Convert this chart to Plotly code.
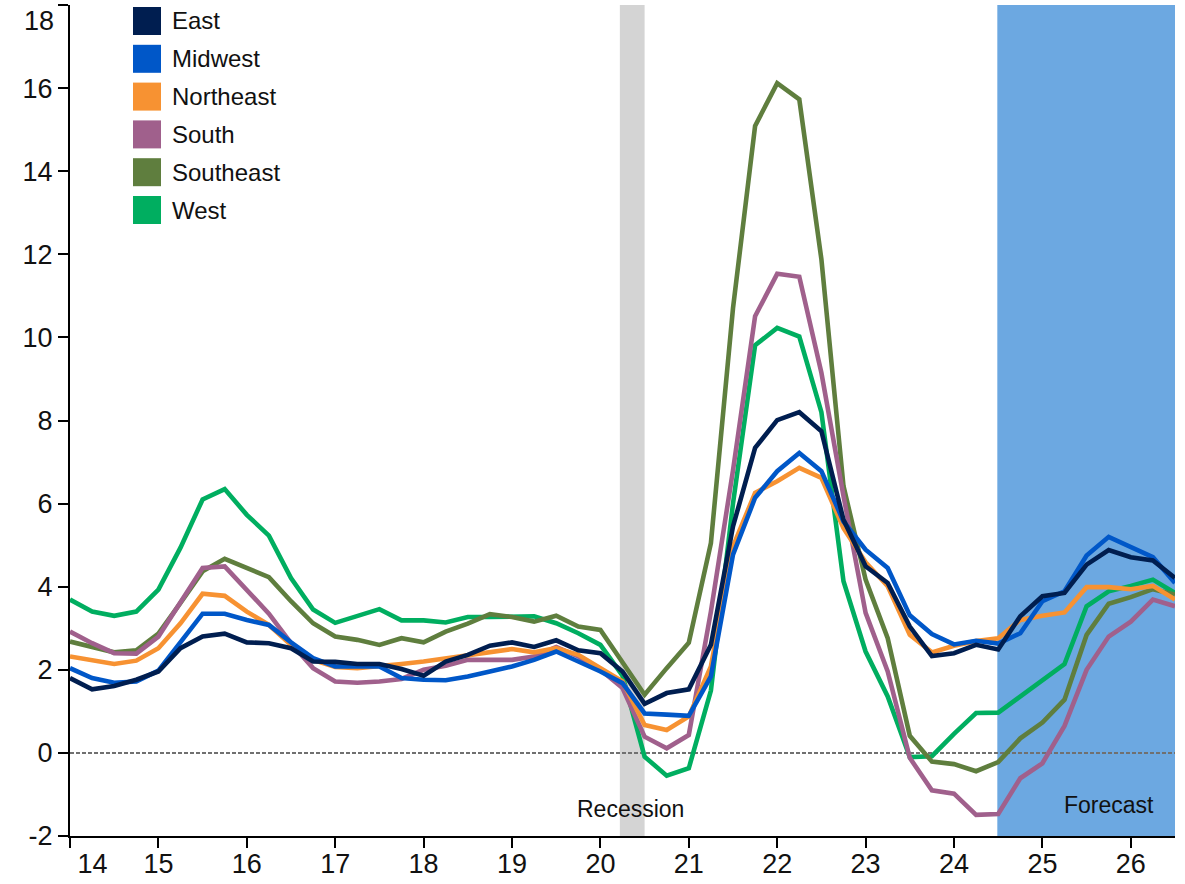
import plotly.graph_objects as go

# Quarterly periods (year 2014 = 14, ...), last observation 26.5
period = [14.0, 14.25, 14.5, 14.75, 15.0, 15.25, 15.5, 15.75, 16.0, 16.25, 16.5, 16.75,
          17.0, 17.25, 17.5, 17.75, 18.0, 18.25, 18.5, 18.75, 19.0, 19.25, 19.5, 19.75,
          20.0, 20.25, 20.5, 20.75, 21.0, 21.25, 21.5, 21.75, 22.0, 22.25, 22.5, 22.75,
          23.0, 23.25, 23.5, 23.75, 24.0, 24.25, 24.5, 24.75, 25.0, 25.25, 25.5, 25.75,
          26.0, 26.25, 26.5]

east = [1.80, 1.53, 1.61, 1.76, 1.96, 2.52, 2.80, 2.87, 2.66, 2.64, 2.52, 2.20,
        2.19, 2.14, 2.14, 2.02, 1.86, 2.20, 2.36, 2.58, 2.66, 2.55, 2.71, 2.47,
        2.40, 1.96, 1.18, 1.44, 1.53, 2.60, 5.45, 7.34, 8.01, 8.20, 7.74, 5.61,
        4.49, 4.09, 3.04, 2.33, 2.40, 2.60, 2.49, 3.29, 3.77, 3.85, 4.53, 4.88,
        4.71, 4.63, 4.21]
midwest = [2.04, 1.80, 1.69, 1.72, 1.98, 2.68, 3.35, 3.35, 3.20, 3.08, 2.66, 2.28,
           2.08, 2.08, 2.08, 1.80, 1.76, 1.75, 1.84, 1.96, 2.08, 2.24, 2.44, 2.20,
           1.96, 1.68, 0.95, 0.92, 0.89, 1.84, 4.77, 6.14, 6.78, 7.22, 6.78, 5.57,
           4.89, 4.45, 3.31, 2.86, 2.61, 2.70, 2.63, 2.88, 3.65, 3.89, 4.75, 5.20,
           4.97, 4.71, 4.09]
northeast = [2.32, 2.24, 2.14, 2.22, 2.52, 3.12, 3.83, 3.78, 3.40, 3.08, 2.60, 2.24,
             2.07, 2.04, 2.08, 2.14, 2.20, 2.28, 2.36, 2.44, 2.50, 2.42, 2.52, 2.36,
             2.04, 1.72, 0.67, 0.55, 0.88, 2.08, 4.97, 6.26, 6.54, 6.86, 6.62, 5.41,
             4.59, 4.01, 2.84, 2.42, 2.58, 2.69, 2.76, 3.20, 3.30, 3.38, 3.99, 3.99,
             3.94, 4.02, 3.69]
south = [2.92, 2.64, 2.40, 2.39, 2.80, 3.65, 4.45, 4.49, 3.93, 3.35, 2.64, 2.04,
         1.72, 1.69, 1.72, 1.78, 2.00, 2.10, 2.24, 2.24, 2.24, 2.32, 2.55, 2.32,
         2.00, 1.56, 0.39, 0.11, 0.43, 3.40, 6.80, 10.51, 11.53, 11.46, 9.15, 6.18,
         3.37, 1.96, -0.12, -0.90, -0.98, -1.49, -1.47, -0.61, -0.25, 0.65, 2.00, 2.80,
         3.16, 3.69, 3.53]
southeast = [2.68, 2.56, 2.42, 2.47, 2.87, 3.61, 4.37, 4.67, 4.45, 4.23, 3.65, 3.12,
             2.80, 2.72, 2.60, 2.76, 2.66, 2.92, 3.11, 3.34, 3.27, 3.16, 3.30, 3.04,
             2.96, 2.20, 1.40, 2.04, 2.65, 5.05, 10.70, 15.09, 16.12, 15.73, 11.88, 6.42,
             4.17, 2.76, 0.41, -0.21, -0.27, -0.44, -0.22, 0.35, 0.73, 1.28, 2.84, 3.59,
             3.75, 3.94, 3.81]
west = [3.69, 3.40, 3.30, 3.40, 3.93, 4.94, 6.10, 6.35, 5.73, 5.23, 4.21, 3.45,
        3.13, 3.29, 3.46, 3.19, 3.19, 3.14, 3.27, 3.27, 3.29, 3.29, 3.12, 2.88,
        2.60, 1.86, -0.09, -0.55, -0.37, 1.50, 6.00, 9.81, 10.23, 10.02, 8.20, 4.13,
        2.44, 1.36, -0.10, -0.08, 0.46, 0.96, 0.97, 1.36, 1.75, 2.14, 3.53, 3.89,
        4.02, 4.17, 3.85]

regions = ["East", "Midwest", "Northeast", "South", "Southeast", "West"]
series = [east, midwest, northeast, south, southeast, west]
colors = ["#001E50", "#0057C8", "#F79232", "#A0608C", "#5F7E3E", "#00AE60"]

x_tick_vals = [14, 15, 16, 17, 18, 19, 20, 21, 22, 23, 24, 25, 26]
x_tick_labels = ["14", "15", "16", "17", "18", "19", "20", "21", "22", "23", "24", "25", "26"]
y_tick_vals = [-2, 0, 2, 4, 6, 8, 10, 12, 14, 16, 18]
y_tick_labels = ["-2", "0", "2", "4", "6", "8", "10", "12", "14", "16", "18"]

recession = (20.22, 20.5)
forecast = (24.49, 26.5)

FONT = "Arial, 'Liberation Sans', sans-serif"
TEXT = "#111111"

fig = go.Figure()

# West drawn first so East ends up on top
for name, vals, col in reversed(list(zip(regions, series, colors))):
    fig.add_trace(go.Scatter(x=period, y=vals, mode="lines", name=name,
                             line=dict(color=col, width=4.6), showlegend=False))

# shaded periods and zero reference line
fig.add_shape(type="rect", xref="x", yref="y", x0=recession[0], x1=recession[1],
              y0=-2, y1=18, fillcolor="#D4D4D4", line_width=0, layer="below")
fig.add_shape(type="rect", xref="x", yref="y", x0=forecast[0], x1=forecast[1],
              y0=-2, y1=18, fillcolor="#6CA8E1", line_width=0, layer="below")
fig.add_shape(type="line", xref="x", yref="y", x0=14, x1=26.5, y0=0, y1=0,
              line=dict(color="#707070", width=2, dash="4px,2px"), layer="below")

fig.add_annotation(x=20.34, y=-1.36, xref="x", yref="y", text="Recession",
                   showarrow=False, font=dict(family=FONT, size=23, color=TEXT))
fig.add_annotation(x=25.75, y=-1.26, xref="x", yref="y", text="Forecast",
                   showarrow=False, font=dict(family=FONT, size=23, color=TEXT))

# hand-built legend with large square swatches
plot_w, plot_h, top_px = 1105.0, 831.0, 5.0
for k, (name, col) in enumerate(zip(regions, colors)):
    cy = 21 + 37.8 * k
    y0 = (plot_h + top_px - (cy + 14)) / plot_h
    y1 = (plot_h + top_px - (cy - 14)) / plot_h
    fig.add_shape(type="rect", xref="paper", yref="paper",
                  x0=(133 - 70) / plot_w, x1=(161 - 70) / plot_w, y0=y0, y1=y1,
                  fillcolor=col, line_width=0)
    fig.add_annotation(x=(170 - 70) / plot_w, y=(y0 + y1) / 2, xref="paper", yref="paper",
                       text=name, showarrow=False, xanchor="left", yanchor="middle",
                       font=dict(family=FONT, size=24, color=TEXT))

# first year label nudged right, clear of the vertical axis
x_text = ["\u00a0" * 6 + x_tick_labels[0]] + x_tick_labels[1:]

# top value label sits just below the axis end so it stays inside the page
y_text = y_tick_labels[:-1] + [""]
fig.add_annotation(x=(56 - 70) / plot_w, y=(plot_h + top_px - 21) / plot_h,
                   xref="paper", yref="paper", text=y_tick_labels[-1], showarrow=False,
                   xanchor="right", yanchor="middle",
                   font=dict(family=FONT, size=27, color=TEXT))

axis_common = dict(showline=True, linewidth=2, linecolor="black", ticks="outside",
                   ticklen=10, tickwidth=2, tickcolor="black", showgrid=False,
                   zeroline=False, automargin=False,
                   tickfont=dict(family=FONT, size=27, color=TEXT))

fig.update_layout(
    width=1185, height=884,
    margin=dict(l=70, r=10, t=5, b=48),
    plot_bgcolor="white", paper_bgcolor="white",
    showlegend=False,
    xaxis=dict(range=[14, 26.5], tickvals=x_tick_vals, ticktext=x_text,
               ticklabelstandoff=-7, **axis_common),
    yaxis=dict(range=[-2, 18], tickvals=y_tick_vals, ticktext=y_text, **axis_common),
)

fig.write_html("out.html")
